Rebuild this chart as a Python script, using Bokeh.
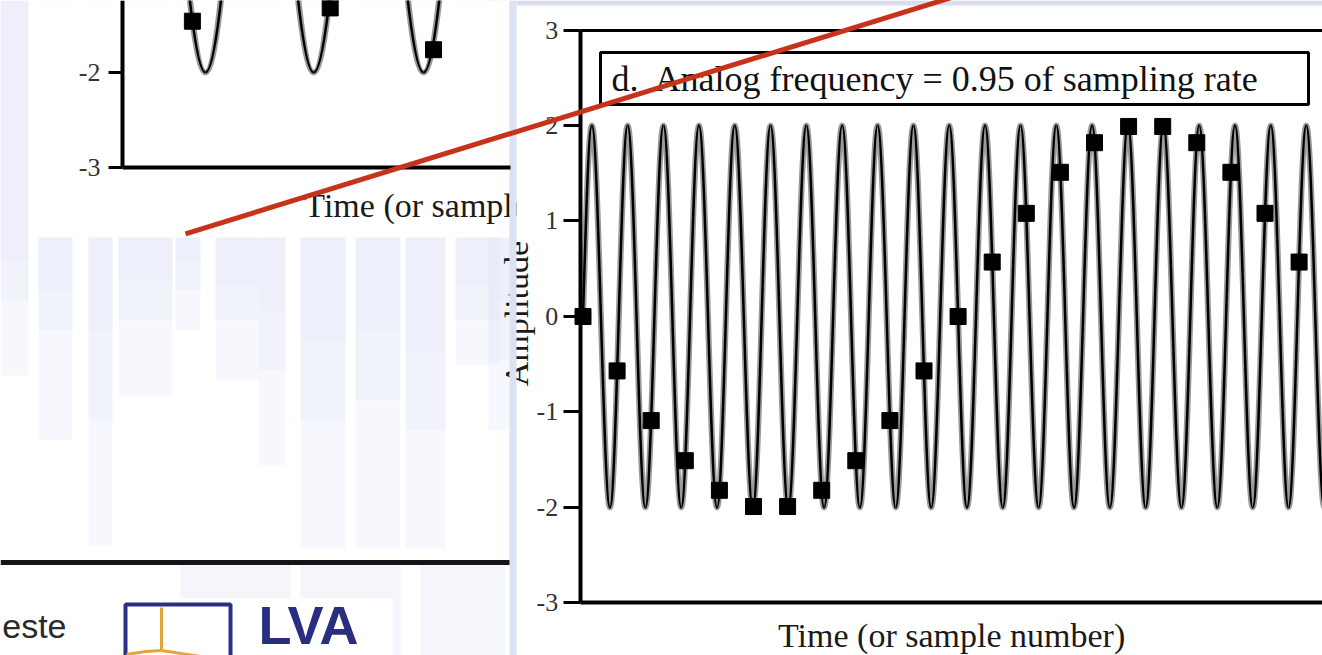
from bokeh.plotting import figure
from bokeh.models import Range1d, LinearAxis, FixedTicker, ColumnDataSource
from bokeh.core.properties import value
from bokeh.embed import file_html
from bokeh.resources import INLINE

# ---- panel d: analog frequency = 0.95 of sampling rate ----
d_sample_n = list(range(22))
d_sample_amp = [0.00, -0.57, -1.09, -1.51, -1.82, -1.99, -1.99, -1.82, -1.51, -1.09, -0.57,
                0.00, 0.57, 1.08, 1.51, 1.82, 1.99, 1.99, 1.82, 1.51, 1.08, 0.57]
# continuous signal: starting point, then alternating crests and troughs (time in samples)
d_wave_t = [0.00, 0.26, 0.79, 1.31, 1.83, 2.36, 2.88, 3.40, 3.93, 4.45, 4.98, 5.50, 6.02,
            6.55, 7.07, 7.60, 8.12, 8.64, 9.17, 9.69, 10.21, 10.74, 11.26, 11.79, 12.31,
            12.83, 13.36, 13.88, 14.40, 14.93, 15.45, 15.98, 16.50, 17.02, 17.55, 18.07,
            18.60, 19.12, 19.64, 20.17, 20.69, 21.21, 21.74, 22.26]
d_wave_amp = [0.0] + [2.0, -2.0] * 21 + [2.0]

# ---- panel c (left, only its lower part is on the page) ----
c_sample_n = [2, 6, 9]
c_sample_amp = [-1.46, -1.32, -1.76]
c_wave_t = [0.80, 2.38, 3.95, 5.52, 7.12, 8.71, 10.30]
c_wave_amp = [2.0, -2.0, 2.0, -2.0, 2.0, -2.0, 2.0]

amp_ticks = [-3, -2, -1, 0, 1, 2, 3]
amp_tick_text = {t: str(t) for t in amp_ticks}  # plain hyphen minus, as printed

title_d = "d.\u00a0 Analog frequency = 0.95 of sampling rate"
x_label = "Time (or sample number)"
y_label = "Amplitude"
footer_word = "este"
logo_word = "LVA"

W, H = 1322, 655
SERIF = "Liberation Serif"

p = figure(width=W, height=H, x_range=Range1d(0, W), y_range=Range1d(H, 0),
           x_axis_type=None, y_axis_type=None, toolbar_location=None,
           output_backend="svg", min_border=0, outline_line_color=None,
           background_fill_color="white", border_fill_color="white")
p.min_border_left = p.min_border_right = p.min_border_top = p.min_border_bottom = 0
# data scales of the two chart panels laid over the slide (default ranges = slide pixels)
p.extra_x_ranges = {"tc": Range1d(-3.570, 34.804), "td": Range1d(-17.082, 21.686)}
p.extra_y_ranges = {"ac": Range1d(-8.137, -1.242), "ad": Range1d(-3.550, 3.309)}

K = 0.3642  # cubic handle length for a half-sine arc


def arcs(ts, vs, start_at_crossing=False):
    cols = {k: [] for k in ("x0", "y0", "x1", "y1", "cx0", "cy0", "cx1", "cy1")}
    for i in range(len(ts) - 1):
        ta, va, tb, vb = ts[i], vs[i], ts[i + 1], vs[i + 1]
        dt = tb - ta
        if i == 0 and start_at_crossing:
            c0 = (ta + 0.326 * dt, va + 0.512 * (vb - va))
            c1 = (ta + 0.638 * dt, vb)
        else:
            c0 = (ta + K * dt, va)
            c1 = (tb - K * dt, vb)
        cols["x0"].append(ta); cols["y0"].append(va)
        cols["x1"].append(tb); cols["y1"].append(vb)
        cols["cx0"].append(c0[0]); cols["cy0"].append(c0[1])
        cols["cx1"].append(c1[0]); cols["cy1"].append(c1[1])
    return ColumnDataSource(cols)


def draw_wave(src, xr, yr):
    kw = dict(x0="x0", y0="y0", x1="x1", y1="y1", cx0="cx0", cy0="cy0", cx1="cx1", cy1="cy1",
              source=src, x_range_name=xr, y_range_name=yr)
    p.bezier(line_color="#9a9a9a", line_width=6, **kw)
    p.bezier(line_color="#000000", line_width=2.5, **kw)


def label(x, y, txt, size, **kw):
    # text anchored on its baseline; the svg text box sits ~0.34 em low, so lift it
    kw.setdefault("text_font", value(SERIF))
    kw.setdefault("text_color", "#1a1a1a")
    kw.setdefault("text_align", "left")
    p.text(x=[x], y=[y], text=[txt], text_font_size=f"{size}px",
           text_baseline="alphabetic", **kw)


# ---- slide background wash ----
wash_left = [0, 38, 88, 118, 175, 215, 258, 300, 355, 405, 455, 488]
wash_right = [28, 72, 112, 172, 200, 258, 285, 345, 400, 445, 500, 509]
wash_bottom = [375, 440, 545, 395, 330, 380, 465, 548, 548, 548, 365, 430]
wash_mid = [300, 330, 420, 320, 290, 320, 370, 420, 400, 430, 320, 360]
wash_top = [260, 290, 330, 280, 260, 285, 310, 340, 330, 350, 285, 300]
for ends, alpha in ((wash_bottom, 0.3), (wash_mid, 0.3), (wash_top, 0.3)):
    p.quad(left=wash_left, right=wash_right, top=[0] * len(wash_left), bottom=ends,
           fill_color="#e6e9f7", fill_alpha=alpha, line_color=None)
p.quad(left=[180, 300, 420], right=[290, 400, 505], top=[565] * 3, bottom=[H] * 3,
       fill_color="#eef0fa", fill_alpha=0.6, line_color=None)

# ---- panel c ----
p.quad(left=[31], right=[509], top=[0], bottom=[237], fill_color="white", line_color=None)
draw_wave(arcs(c_wave_t, c_wave_amp), "tc", "ac")
p.scatter(c_sample_n, c_sample_amp, marker="square", size=16, color="black",
          x_range_name="tc", y_range_name="ac")
label(5.25, -3.40, x_label, 34, x_range_name="tc", y_range_name="ac")

# ---- panel d ----
p.quad(left=[516], right=[W], top=[5], bottom=[H], fill_color="white", line_color=None)
label(516, 313, y_label, 34, angle=1.5708, text_align="center")
p.quad(left=[509], right=[516], top=[0], bottom=[H], fill_color="#dde2f3", line_color=None)
p.quad(left=[516], right=[W], top=[0], bottom=[5], fill_color="#d9deef", line_color=None)

p.quad(left=[600], right=[1308], top=[52], bottom=[104], fill_color="white",
       line_color="black", line_width=3)
label(611, 78, title_d, 36, text_color="#111111")

draw_wave(arcs(d_wave_t, d_wave_amp, start_at_crossing=True), "td", "ad")
p.scatter(d_sample_n, d_sample_amp, marker="square", size=16, color="black",
          x_range_name="td", y_range_name="ad")
label(10.81, -3.345, x_label, 34, text_align="center", x_range_name="td", y_range_name="ad")

# ---- slide footer ----
p.segment(x0=[0], y0=[562], x1=[509], y1=[562], line_color="#151515", line_width=5)
label(66, 625, footer_word, 34, text_font=value("Liberation Sans"), text_color="#2a2a2a",
      text_align="right")
p.quad(left=[118], right=[392], top=[598], bottom=[H], fill_color="white", line_color=None)
p.quad(left=[125], right=[230], top=[604], bottom=[H + 10], fill_color=None,
       line_color="#2b2f86", line_width=4)
p.multi_line(xs=[[161, 161], [126, 145, 161], [161, 200, 232]],
             ys=[[607, 650], [654, 651, 650], [650, 656, 666]],
             line_color="#e3a53c", line_width=3)
label(258, 624, logo_word, 54, text_font=value("Liberation Sans"), text_font_style="bold",
      text_color="#2a2e7e")

# ---- pointer line ----
p.line(x=[185, 950], y=[233.3, -2.6], line_color="#c8321b", line_width=5, level="overlay")

# ---- axes ----
def axis(side, xr, yr, loc, ticks, bounds, tick_out=0, standoff=0, line_width=4):
    ax = LinearAxis(x_range_name=xr, y_range_name=yr, fixed_location=loc,
                    ticker=FixedTicker(ticks=ticks, minor_ticks=[]), bounds=bounds,
                    axis_line_color="black", axis_line_width=line_width,
                    major_tick_line_color="black", major_tick_line_width=3,
                    major_tick_out=tick_out, major_tick_in=0,
                    minor_tick_out=0, minor_tick_in=0,
                    major_label_standoff=standoff,
                    major_label_overrides=amp_tick_text,
                    major_label_text_font=SERIF, major_label_text_font_size="26px",
                    major_label_text_color="#333333")
    p.add_layout(ax, side)
    return ax

axis("left", "td", "ad", -0.08, amp_ticks, (-3, 3), tick_out=17, standoff=5)
axis("below", "td", "ad", -3, [], (-0.08, 21.69))
axis("above", "td", "ad", 3, [], (-0.08, 21.69), line_width=3)
axis("left", "tc", "ac", -0.03, amp_ticks, (-3, 0), tick_out=14, standoff=8)
axis("below", "tc", "ac", -3, [], (-0.03, 11.23))

open("out.html", "w").write(file_html(p, INLINE))
